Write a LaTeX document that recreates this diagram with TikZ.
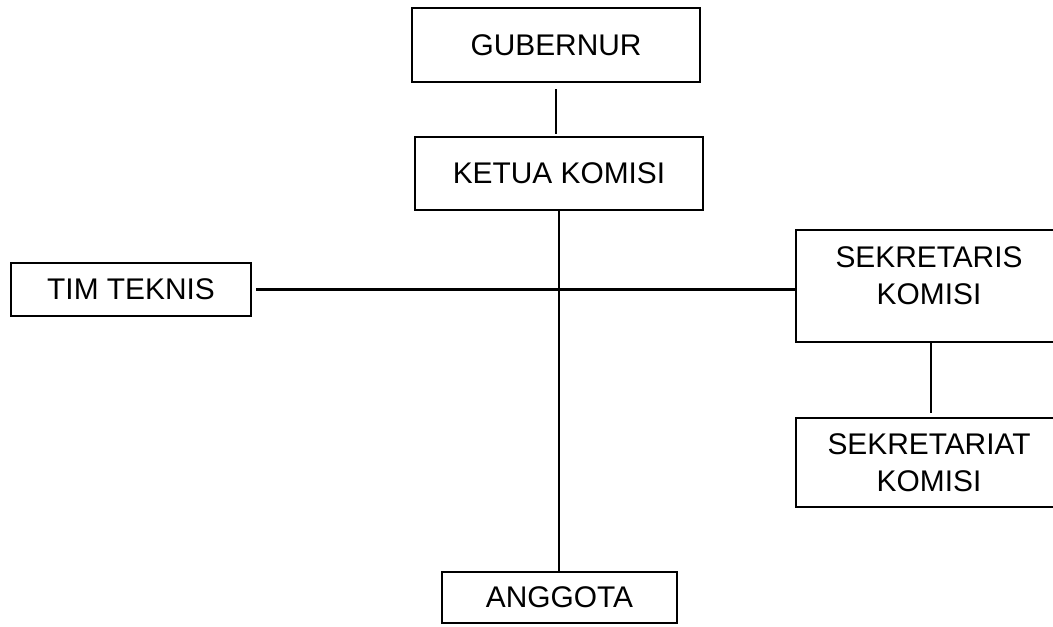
\documentclass[tikz,border=0pt]{standalone}
\usepackage{fontspec}
\setmainfont{Liberation Sans}
\begin{document}
\begin{tikzpicture}[x=0.02cm,y=-0.02cm,
		kotak/.style={draw, line width=1.3pt, align=center, inner sep=0pt,
			font=\fontsize{17}{21}\selectfont},
		garis/.style={line width=1.3pt}]
		\useasboundingbox (0,0) rectangle (1053,626);

		\node[kotak, minimum width=5.76cm, minimum height=1.48cm] (gub) at (556,45) {GUBERNUR};
		\node[kotak, minimum width=5.76cm, minimum height=1.46cm] (ketua) at (559,173.5) {KETUA KOMISI};
		\node[kotak, minimum width=4.8cm, minimum height=1.06cm] (tim) at (131,289.5) {TIM TEKNIS};
		\node[kotak, minimum width=5.32cm, minimum height=2.24cm, text depth=0.42cm] (sek) at (929,286) {SEKRETARIS\\KOMISI};
		\node[kotak, minimum width=5.32cm, minimum height=1.78cm] (sekr) at (929,462.5) {SEKRETARIAT\\KOMISI};
		\node[kotak, minimum width=4.7cm, minimum height=1.02cm] (anggota) at (559.5,597.5) {ANGGOTA};

		\draw[garis, shorten <=0.12cm, shorten >=0.04cm] (gub.south) -- (gub.south |- ketua.north);
		\draw[garis] (ketua.south) -- (ketua.south |- anggota.north);
		\draw[garis, shorten <=0.08cm] (tim.east) -- (tim.east -| sek.west);
		\draw[garis, shorten >=0.08cm] ([xshift=0.04cm]sek.south) -- ([xshift=0.04cm]sekr.north);
	\end{tikzpicture}
\end{document}
